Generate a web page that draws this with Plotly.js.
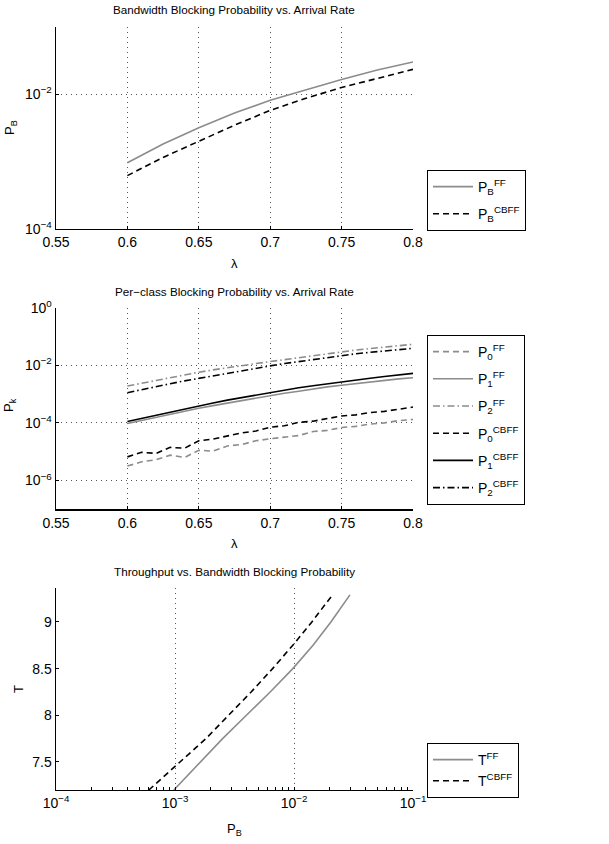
<!DOCTYPE html>
<html>
<head>
<meta charset="utf-8">
<script src="https://cdn.plot.ly/plotly-3.0.1.min.js"></script>
<style>
  html, body { margin: 0; padding: 0; background: #fff; }
  #chart { width: 609px; height: 844px; }
</style>
</head>
<body>
<div id="chart"></div>
<script>
// ---- Panel 1: bandwidth blocking probability vs arrival rate ----
const lambdaCoarse = [0.6, 0.625, 0.65, 0.675, 0.7, 0.725, 0.75, 0.775, 0.8];
const log10PbFF   = [-3.02, -2.74, -2.50, -2.28, -2.09, -1.93, -1.78, -1.64, -1.52];
const log10PbCBFF = [-3.21, -2.94, -2.70, -2.46, -2.24, -2.06, -1.90, -1.76, -1.63];

// ---- Panel 2: per-class blocking probability vs arrival rate ----
const lambdaFine = [0.60, 0.61, 0.62, 0.63, 0.64, 0.65, 0.66, 0.67, 0.68, 0.69, 0.70,
                    0.71, 0.72, 0.73, 0.74, 0.75, 0.76, 0.77, 0.78, 0.79, 0.80];
const log10P0FF   = [-5.50, -5.35, -5.28, -5.12, -5.20, -4.95, -4.98, -4.80, -4.75, -4.62, -4.55,
                     -4.50, -4.44, -4.30, -4.26, -4.16, -4.12, -4.04, -4.00, -3.92, -3.88];
const log10P1FF   = [-4.02, -3.91, -3.80, -3.69, -3.59, -3.49, -3.40, -3.31, -3.22, -3.13, -3.05,
                     -2.97, -2.90, -2.82, -2.75, -2.69, -2.63, -2.57, -2.52, -2.47, -2.43];
const log10P2FF   = [-2.72, -2.62, -2.52, -2.42, -2.33, -2.24, -2.16, -2.08, -2.01, -1.94, -1.87,
                     -1.80, -1.73, -1.66, -1.59, -1.53, -1.47, -1.42, -1.37, -1.32, -1.27];
const log10P0CBFF = [-5.18, -5.02, -5.06, -4.85, -4.88, -4.62, -4.56, -4.46, -4.35, -4.28, -4.15,
                     -4.10, -3.98, -3.94, -3.86, -3.76, -3.72, -3.64, -3.60, -3.52, -3.45];
const log10P1CBFF = [-3.95, -3.84, -3.73, -3.62, -3.51, -3.41, -3.31, -3.21, -3.12, -3.03, -2.94,
                     -2.86, -2.78, -2.71, -2.64, -2.57, -2.50, -2.45, -2.39, -2.33, -2.28];
const log10P2CBFF = [-2.95, -2.84, -2.74, -2.64, -2.54, -2.45, -2.36, -2.27, -2.18, -2.10, -2.02,
                     -1.94, -1.87, -1.80, -1.73, -1.66, -1.60, -1.55, -1.50, -1.45, -1.41];

// ---- Panel 3: throughput vs bandwidth blocking probability ----
const log10PbThrFF   = [-3.01, -2.79, -2.60, -2.40, -2.20, -2.01, -1.84, -1.69, -1.58, -1.53];
const throughputFF   = [7.2, 7.5, 7.75, 8.0, 8.25, 8.5, 8.75, 9.0, 9.2, 9.29];
const log10PbThrCBFF = [-3.22, -3.08, -2.95, -2.74, -2.55, -2.36, -2.18, -2.01, -1.85, -1.67];
const throughputCBFF = [7.2, 7.36, 7.5, 7.75, 8.0, 8.25, 8.5, 8.75, 9.0, 9.3];

// ---- Tick labels ----
const lambdaTicks = [0.55, 0.6, 0.65, 0.7, 0.75, 0.8];
const lambdaTickText = ['0.55', '0.6', '0.65', '0.7', '0.75', '0.8'];
const pbTickVals = [1e-4, 1e-2];
const pbTickText = ['10<sup>\u22124</sup>', '10<sup>\u22122</sup>'];
const pkTickVals = [1e-6, 1e-4, 1e-2, 1];
const pkTickText = ['10<sup>\u22126</sup>', '10<sup>\u22124</sup>', '10<sup>\u22122</sup>', '10<sup>0</sup>'];
const thrPbTickVals = [1e-4, 1e-3, 1e-2, 1e-1];
const thrPbTickText = ['10<sup>\u22124</sup>', '10<sup>\u22123</sup>', '10<sup>\u22122</sup>', '10<sup>\u22121</sup>'];
const thrTickVals = [7.5, 8, 8.5, 9];
const thrTickText = ['7.5', '8', '8.5', '9'];
const thrPbMinorTicks = [2e-4, 3e-4, 4e-4, 5e-4, 6e-4, 7e-4, 8e-4, 9e-4,
                         2e-3, 3e-3, 4e-3, 5e-3, 6e-3, 7e-3, 8e-3, 9e-3,
                         2e-2, 3e-2, 4e-2, 5e-2, 6e-2, 7e-2, 8e-2, 9e-2];

const pow10 = arr => arr.map(v => Math.pow(10, v));

const GRAY = '#8c8c8c';
const BLACK = '#000000';
const DASH = '6px,4px';
const DASHDOT = '7px,3px,1.5px,3px';
const LW = 1.6;

const W = 609, H = 844;
const xDom = [56 / W, 413 / W];
const yDom1 = [1 - 228.7 / H, 1 - 27 / H];
const yDom2 = [1 - 509.3 / H, 1 - 307.7 / H];
const yDom3 = [1 - 790 / H, 1 - 588.3 / H];

const traces = [
  { x: lambdaCoarse, y: pow10(log10PbFF), name: 'P<sub>B</sub><sup>FF</sup>',
    xaxis: 'x', yaxis: 'y', legend: 'legend',
    line: { color: GRAY, width: LW } },
  { x: lambdaCoarse, y: pow10(log10PbCBFF), name: 'P<sub>B</sub><sup>CBFF</sup>',
    xaxis: 'x', yaxis: 'y', legend: 'legend',
    line: { color: BLACK, width: LW, dash: DASH } },

  { x: lambdaFine, y: pow10(log10P0FF), name: 'P<sub>0</sub><sup>FF</sup>',
    xaxis: 'x2', yaxis: 'y2', legend: 'legend2',
    line: { color: GRAY, width: LW, dash: DASH } },
  { x: lambdaFine, y: pow10(log10P1FF), name: 'P<sub>1</sub><sup>FF</sup>',
    xaxis: 'x2', yaxis: 'y2', legend: 'legend2',
    line: { color: GRAY, width: LW } },
  { x: lambdaFine, y: pow10(log10P2FF), name: 'P<sub>2</sub><sup>FF</sup>',
    xaxis: 'x2', yaxis: 'y2', legend: 'legend2',
    line: { color: GRAY, width: LW, dash: DASHDOT } },
  { x: lambdaFine, y: pow10(log10P0CBFF), name: 'P<sub>0</sub><sup>CBFF</sup>',
    xaxis: 'x2', yaxis: 'y2', legend: 'legend2',
    line: { color: BLACK, width: LW, dash: DASH } },
  { x: lambdaFine, y: pow10(log10P1CBFF), name: 'P<sub>1</sub><sup>CBFF</sup>',
    xaxis: 'x2', yaxis: 'y2', legend: 'legend2',
    line: { color: BLACK, width: LW } },
  { x: lambdaFine, y: pow10(log10P2CBFF), name: 'P<sub>2</sub><sup>CBFF</sup>',
    xaxis: 'x2', yaxis: 'y2', legend: 'legend2',
    line: { color: BLACK, width: LW, dash: DASHDOT } },

  { x: pow10(log10PbThrFF), y: throughputFF, name: 'T<sup>FF</sup>',
    xaxis: 'x3', yaxis: 'y3', legend: 'legend3',
    line: { color: GRAY, width: LW } },
  { x: pow10(log10PbThrCBFF), y: throughputCBFF, name: 'T<sup>CBFF</sup>',
    xaxis: 'x3', yaxis: 'y3', legend: 'legend3',
    line: { color: BLACK, width: LW, dash: DASH } }
].map((t, i) => Object.assign({
  type: 'scatter', mode: 'lines', hoverinfo: 'skip', legendgroup: 'g' + i
}, t));

const FONT = 'Liberation Sans, Arial, Helvetica, sans-serif';
const tickFont = { family: FONT, size: 14, color: '#000' };

const baseAxis = {
  showline: true, linecolor: '#000', linewidth: 1.4, mirror: false,
  ticks: 'inside', ticklen: 3, tickcolor: '#000', tickwidth: 1,
  tickfont: tickFont, zeroline: false, fixedrange: true,
  gridcolor: '#555', gridwidth: 1, griddash: '1px,4px'
};

const legendBase = {
  bgcolor: '#fff', bordercolor: '#000', borderwidth: 1,
  font: { family: FONT, size: 14, color: '#000' },
  xanchor: 'left', yanchor: 'top', x: 427 / W, itemwidth: 40,
  tracegroupgap: 6, itemclick: false, itemdoubleclick: false
};

const titleFont = { family: FONT, size: 11.7, color: '#000' };
const labelFont = { family: FONT, size: 13, color: '#000' };
const ann = (text, xp, yp, font, extra) => Object.assign({
  text: text, xref: 'paper', yref: 'paper', x: xp / W, y: 1 - yp / H,
  xanchor: 'center', yanchor: 'middle', showarrow: false, font: font
}, extra || {});

const layout = {
  width: W, height: H,
  margin: { l: 0, r: 0, t: 0, b: 0 },
  paper_bgcolor: '#fff', plot_bgcolor: '#fff',
  showlegend: true,
  xaxis: Object.assign({}, baseAxis, {
    domain: xDom, anchor: 'y', range: [0.55, 0.8],
    tickvals: lambdaTicks, ticktext: lambdaTickText, showgrid: true
  }),
  yaxis: Object.assign({}, baseAxis, {
    domain: yDom1, anchor: 'x', type: 'log', range: [-4, -1],
    tickvals: pbTickVals, ticktext: pbTickText, showgrid: true
  }),
  xaxis2: Object.assign({}, baseAxis, {
    domain: xDom, anchor: 'y2', range: [0.55, 0.8],
    tickvals: lambdaTicks, ticktext: lambdaTickText, showgrid: true
  }),
  yaxis2: Object.assign({}, baseAxis, {
    domain: yDom2, anchor: 'x2', type: 'log', range: [-7, 0],
    tickvals: pkTickVals, ticktext: pkTickText, showgrid: true
  }),
  xaxis3: Object.assign({}, baseAxis, {
    domain: xDom, anchor: 'y3', type: 'log', range: [-4, -1],
    tickvals: thrPbTickVals, ticktext: thrPbTickText, showgrid: true,
    minor: { tickmode: 'array', tickvals: thrPbMinorTicks, ticks: 'inside',
             ticklen: 3, tickcolor: '#000', showgrid: false }
  }),
  yaxis3: Object.assign({}, baseAxis, {
    domain: yDom3, anchor: 'x3', range: [7.2, 9.36],
    tickvals: thrTickVals, ticktext: thrTickText, showgrid: false
  }),
  legend: Object.assign({}, legendBase, { y: 1 - 170 / H }),
  legend2: Object.assign({}, legendBase, { y: 1 - 335 / H }),
  legend3: Object.assign({}, legendBase, { y: 1 - 743 / H, tracegroupgap: 0 }),
  annotations: [
    ann('Bandwidth Blocking Probability vs. Arrival Rate', 234.5, 10, titleFont),
    ann('Per\u2212class Blocking Probability vs. Arrival Rate', 234.5, 291, titleFont),
    ann('Throughput vs. Bandwidth Blocking Probability', 234.5, 571, titleFont),
    ann('\u03bb', 234.5, 263, labelFont),
    ann('\u03bb', 234.5, 543, labelFont),
    ann('P<sub>B</sub>', 234.5, 829, labelFont),
    ann('P<sub>B</sub>', 10, 128, labelFont, { textangle: -90 }),
    ann('P<sub>k</sub>', 9, 405, labelFont, { textangle: -90 }),
    ann('T', 18, 689, labelFont, { textangle: -90 })
  ]
};

Plotly.newPlot('chart', traces, layout, { staticPlot: true, displayModeBar: false });
</script>
</body>
</html>
